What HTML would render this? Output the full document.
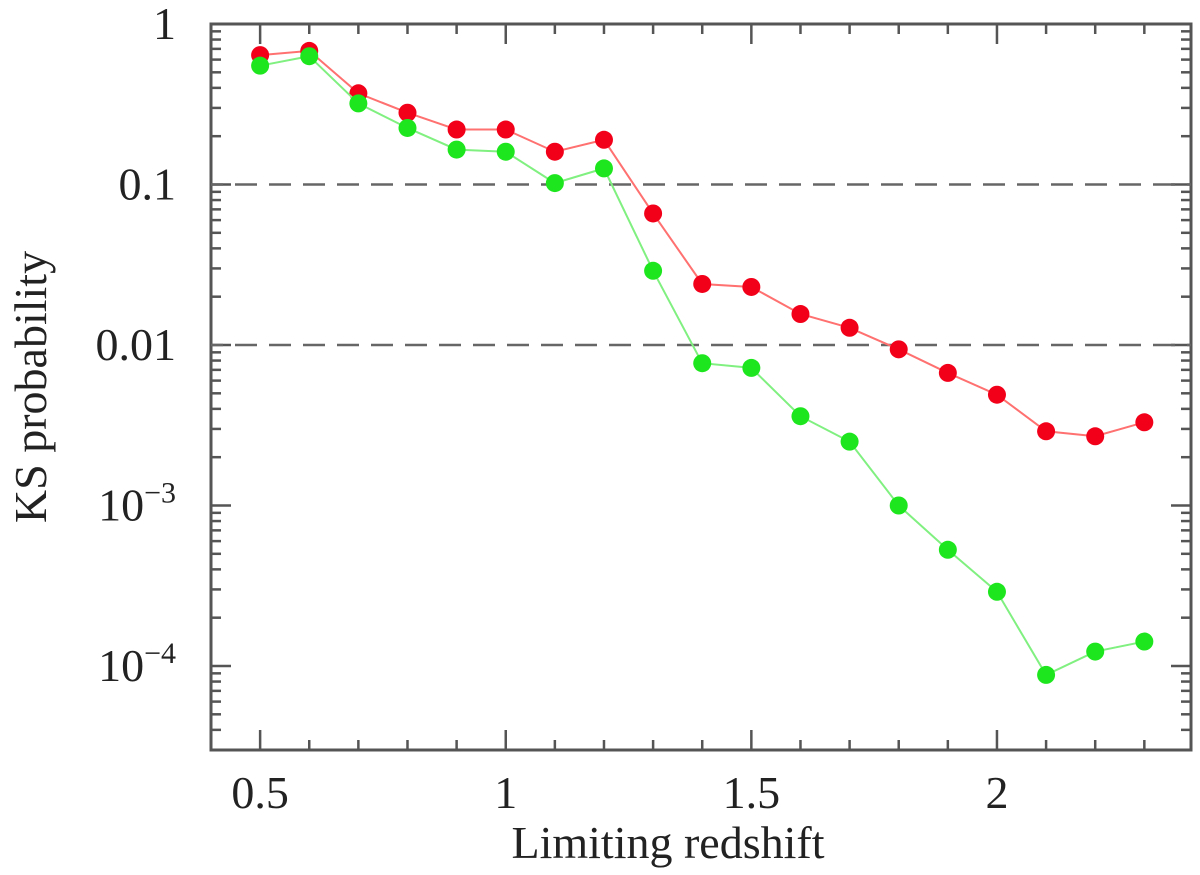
<!DOCTYPE html>
<html><head><meta charset="utf-8"><style>
body{margin:0;background:#fff}
svg{display:block}
text{font-family:"Liberation Serif","DejaVu Serif",serif}
</style></head><body>
<svg id="c" width="1200" height="875" font-family="Liberation Serif, serif"></svg>
<script>
const xValues=[0.5,0.6,0.7,0.8,0.9,1.0,1.1,1.2,1.3,1.4,1.5,1.6,1.7,1.8,1.9,2.0,2.1,2.2,2.3];
const redValues=[0.64,0.68,0.37,0.28,0.22,0.22,0.16,0.19,0.066,0.024,0.023,0.0156,0.0128,0.0094,0.0067,0.0049,0.0029,0.0027,0.0033];
const greenValues=[0.55,0.63,0.32,0.225,0.165,0.16,0.102,0.126,0.029,0.0077,0.0072,0.0036,0.0025,0.001,0.00053,0.00029,0.000088,0.000123,0.000142];
const xTicks=[0.5,1,1.5,2];
const xTickLabels=["0.5","1","1.5","2"];
const yTickExps=[0,-1,-2,-3,-4];
const refLines=[0.1,0.01];

const NS="http://www.w3.org/2000/svg";
const svg=document.getElementById('c');
const L=211,R=1191,T=24,B=750;
const xMin=0.4,xMax=2.395;
const dec=160.5;
const X=v=>L+(v-xMin)/(xMax-xMin)*(R-L);
const Y=v=>T-Math.log10(v)*dec;
function el(tag,attrs,parent){const e=document.createElementNS(NS,tag);for(const k in attrs)e.setAttribute(k,attrs[k]);(parent||svg).appendChild(e);return e;}

const frame=el('rect',{x:L,y:T,width:R-L,height:B-T,fill:'none',stroke:'#555',"stroke-width":3});



const gx=el('g',{stroke:'#555',"stroke-width":2.5});


for(let i=5;i<=23;i++){const v=i/10;const x=X(v);const major=(i%5===0);const len=major?20:10;
 el('line',{x1:x,y1:B,x2:x,y2:B-len},gx);el('line',{x1:x,y1:T,x2:x,y2:T+len},gx);}
xTicks.forEach((v,i)=>{const t=el('text',{x:X(v),y:808,"font-size":46,"text-anchor":"middle",fill:'#222'});t.textContent=xTickLabels[i];
 
 });

const gy=el('g',{stroke:'#555',"stroke-width":2.5});


for(let e=0;e>=-5;e--){for(let m=1;m<10;m++){
 const yy=T-(Math.log10(m)+e-1)*dec; if(yy<T-0.5||yy>B)continue;
 const len=(m===1)?20:10;el('line',{x1:L,y1:yy,x2:L+len,y2:yy},gy);el('line',{x1:R,y1:yy,x2:R-len,y2:yy},gy);}}
yTickExps.forEach(e=>{const y=Y(Math.pow(10,e));let t;
 t=el('text',{x:176,y:y+15,"font-size":46,"text-anchor":"end",fill:'#222'});
 if(e>=-2){t.textContent=(e===0?"1":e===-1?"0.1":"0.01");}
 else{const a=el('tspan',{},t);a.textContent="10";const b=el('tspan',{dy:-18,"font-size":30},t);b.textContent="−"+(-e);}
 
 });

refLines.forEach(v=>{const l=el('line',{x1:L,x2:R,y1:Y(v),y2:Y(v),stroke:'#666',"stroke-width":2.5,"stroke-dasharray":"22,12","stroke-dashoffset":"-24"});
 
 });

function series(vals,line,dot,name){
 const g=el('g',{});
 
 
 el('polyline',{points:vals.map((v,i)=>X(xValues[i])+','+Y(v)).join(' '),fill:'none',stroke:line,"stroke-width":2},g);
 vals.forEach((v,i)=>{const c=el('circle',{cx:X(xValues[i]),cy:Y(v),r:9,fill:dot},g);
  
  });
}
series(redValues,'#ff7070','#f2001a','red-series');
series(greenValues,'#80f080','#1ee61e','green-series');

const xt=el('text',{x:668,y:858,"font-size":46,"text-anchor":"middle",fill:'#222'});xt.textContent="Limiting redshift";


const yt=el('text',{x:0,y:0,"font-size":46,"text-anchor":"middle",fill:'#222',transform:'translate(46,387) rotate(-90)'});yt.textContent="KS probability";


</script>
</body></html>
